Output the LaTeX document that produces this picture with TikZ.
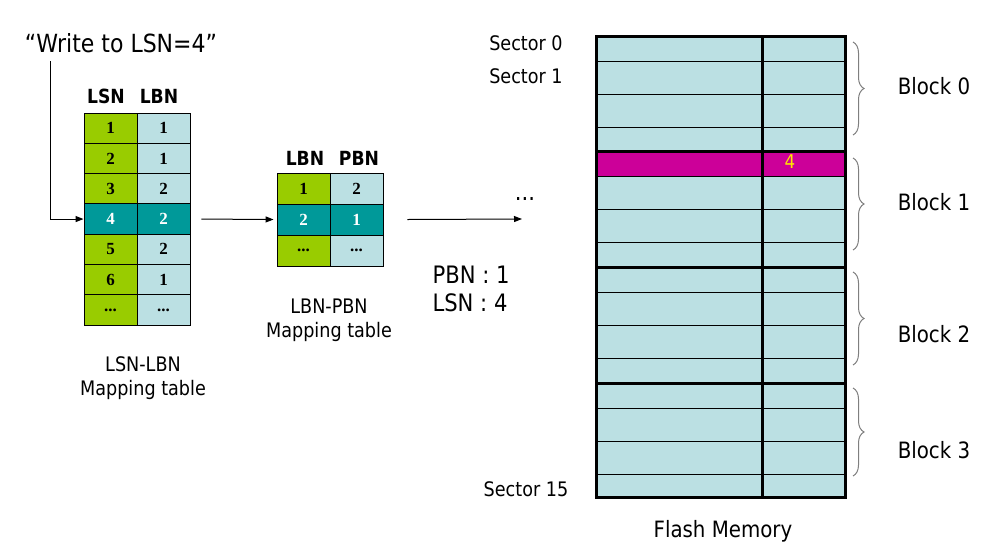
\documentclass[tikz,border=0pt]{standalone}
\usepackage{fontspec}
\setmainfont{DejaVu Sans}[FakeStretch=0.88]
\newfontfamily\numfont{Liberation Serif}
\usetikzlibrary{arrows.meta,decorations.pathreplacing}
\definecolor{lgreen}{HTML}{99CC00}
\definecolor{lblue}{HTML}{BBE0E3}
\definecolor{tealc}{HTML}{009999}
\definecolor{magc}{HTML}{CC0099}
\definecolor{yelc}{HTML}{FFE600}
\definecolor{bracec}{HTML}{7F7F7F}
\newcommand\tbdots{...}
\begin{document}
\begin{tikzpicture}[x=1pt,y=-1pt,
  cellbox/.style={draw=black,line width=0.9pt,minimum width=53pt,inner sep=0pt,
    font=\numfont\bfseries\fontsize{17}{17}\selectfont},
  hdr/.style={font=\bfseries\fontsize{19.5}{19.5}\selectfont},
  lbl/.style={font=\fontsize{20}{24}\selectfont,align=center},
  sect/.style={font=\fontsize{20}{20}\selectfont},
  blk/.style={font=\fontsize{22.5}{23}\selectfont},
  arr/.style={line width=1pt,-{Triangle[length=8pt,width=6pt]}},
  bracestyle/.style={draw=bracec,line width=1pt,decorate,decoration={brace,amplitude=11pt}},
  thickline/.style={line width=3pt},
  thinline/.style={line width=1pt}]
\useasboundingbox (0,0) rectangle (993,555);

% ---- title text and entry arrow
\node[font=\fontsize{25}{25}\selectfont] (write) at (121,43) {“Write to LSN=4”};

% ---- LSN-LBN table
\node[hdr] (hlsn) at (106,96) {LSN};
\node[hdr] (hlbn) at (159,96) {LBN};
\foreach \i/\l/\b/\fa/\fb/\tc in {1/1/1/lgreen/lblue/black,2/2/1/lgreen/lblue/black,
  3/3/2/lgreen/lblue/black,4/4/2/tealc/tealc/white,5/5/2/lgreen/lblue/black,
  6/6/1/lgreen/lblue/black,7/\tbdots/\tbdots/lgreen/lblue/black}{
  \node[cellbox,minimum height=30.3pt,fill=\fa,text=\tc] (a\i) at (110.5,{113+30.3*(\i-0.5)}) {\l};
  \node[cellbox,minimum height=30.3pt,fill=\fb,text=\tc] (b\i) at (163.5,{113+30.3*(\i-0.5)}) {\b};
}
\node[lbl] (lab1) at (143,378) {LSN-LBN\\Mapping table};

% ---- LBN-PBN table
\node[hdr] (hlbn2) at (305,158) {LBN};
\node[hdr] (hpbn) at (359,158) {PBN};
\foreach \i/\l/\b/\fa/\fb/\tc in {1/1/2/lgreen/lblue/black,2/2/1/tealc/tealc/white,
  3/\tbdots/\tbdots/lgreen/lblue/black}{
  \node[cellbox,minimum height=31pt,fill=\fa,text=\tc] (m\i) at (303.5,{173+31*(\i-0.5)}) {\l};
  \node[cellbox,minimum height=31pt,fill=\fb,text=\tc] (n\i) at (356.5,{173+31*(\i-0.5)}) {\b};
}
\node[lbl] (lab2) at (329,320) {LBN-PBN\\Mapping table};

% ---- arrows
\coordinate (wstart) at (50,61);
\draw[arr] (wstart) |- (a4.west);
\draw[arr] ([xshift=11pt]b4.east) -- ([xshift=-3pt]m2.west);
\coordinate (aend) at (522,219);
\draw[arr] ([xshift=24pt]n2.east) -- (aend);
\node[font=\fontsize{24}{24}\selectfont] (dots) at (525,199) {\tbdots};
\node[font=\fontsize{24}{28}\selectfont,align=left,anchor=west] (addr) at (429,289) {PBN : 1\\LSN : 4};

% ---- flash memory
\fill[lblue] (596,36) rectangle (845,497);
\fill[magc] (596,151) rectangle (845,176);
\foreach \bb in {36,151,267,383}{
  \foreach \o in {25,58,91}{
    \draw[thinline] (596,{\bb+\o}) -- (845,{\bb+\o});
  }
}
\foreach \bb in {151,267,383}{
  \draw[thickline] (596,\bb) -- (845,\bb);
}
\draw[thickline] (762,36) -- (762,497);
\draw[thickline] (596,36) rectangle (845,497);
\node[font=\fontsize{19}{19}\selectfont,text=yelc] (four) at (790,162) {4};

\node[sect] (s0) at (526,43) {Sector 0};
\node[sect] (s1) at (526,76) {Sector 1};
\node[sect] (s15) at (526,489) {Sector 15};
\node[font=\fontsize{22.5}{23}\selectfont] (flash) at (723,531) {Flash Memory};

% ---- braces and block labels
\draw[bracestyle] (853,42) -- (853,135);
\draw[bracestyle] (853,158) -- (853,250);
\draw[bracestyle] (853,272) -- (853,365);
\draw[bracestyle] (853,388) -- (853,476);
\node[blk] (bl0) at (934,86) {Block 0};
\node[blk] (bl1) at (934,202) {Block 1};
\node[blk] (bl2) at (934,334) {Block 2};
\node[blk] (bl3) at (934,450) {Block 3};
\end{tikzpicture}
\end{document}
